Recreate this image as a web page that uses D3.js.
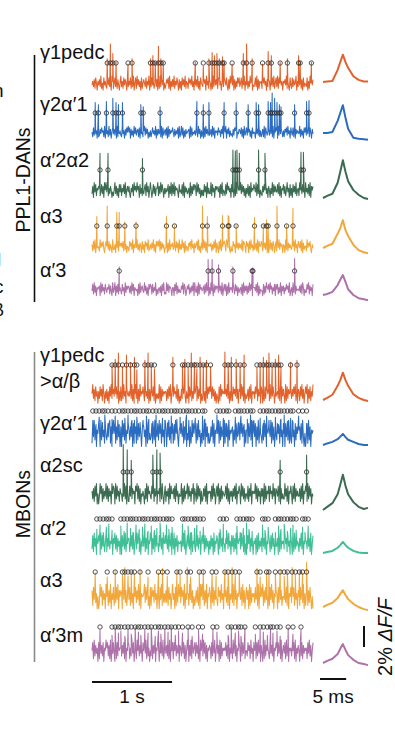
<!DOCTYPE html>
<html lang="en">
<head>
<meta charset="UTF-8">
<title>PPL1-DAN and MBON traces</title>
<script src="https://d3js.org/d3.v7.min.js"></script>
<style>
  body { margin:0; background:#fff; }
  svg { display:block; }
  text { font-family: "Liberation Sans", Arial, sans-serif; fill:#111; }
</style>
</head>
<body>
<script>
// ---------- data ----------
// trace length (s) and sample noise (digits 0-9, centred on 4.5)
const traceEnd = 2.76;

const danNames = [["γ1pedc"], ["γ2α′1"], ["α′2α2"], ["α3"], ["α′3"]];
const mbonNames = [["γ1pedc", ">α/β"], ["γ2α′1"], ["α2sc"], ["α′2"], ["α3"], ["α′3m"]];

// noise half-range, % dF/F
const danNoiseAmp = [0.75, 0.65, 0.8, 0.7, 0.7];
const mbonNoiseAmp = [1.0, 1.4, 1.1, 1.15, 1.3, 1.15];

const danNoise = [
  "4637285164 7392518463 2748351962 5836274159 3628475193 6482739158 2947361825 7538264917 3846259371 6293847152 4758291637 3926485172 6184739265 2857493618 4739261854" +
  "3857194627 5162938474 2794615838 6483172959 4917263858 3582749164 7263958143 4839172656 2958461737 6174839258 3928574616 5749263184 2837459163 6492718354 3816295747",
  "5283746192 3748562918 4629371584 7381925463 2946173859 5817362948 3672819452 6938471526 2584639173 7462918357 3819274658 5273648192 4938162745 6719283546 3852947162" +
  "6182947353 4729381656 3856274918 5917482634 2738691547 6482719358 3957261845 5184739262 4729185367 3846291758 6193847526 2758394618 5382917465 4927361858 3649285174",
  "3719482657 6248371959 4826375142 5937261848 2648391574 7316482957 4957183624 3682947159 5148372669 2739485163 6458173928 3927564184 5382917463 4619273858 7294836152" +
  "5284719363 3928461757 6471839254 2839574618 4716293855 5938472616 3827194658 6492837153 2748593617 5163928474 4839271658 3725946182 6184739256 2957384619 4638291757",
  "6283917454 2947583168 5738264193 3619482575 7482936154 2857391648 4936275183 6185739246 3749261858 5928374614 4817293657 3562847193 6394718254 2758394617 4683925174" +
  "3948271656 5726384917 4183926578 6297483152 2856194737 4639287518 5718394626 3472918558 6284739151 4937286158 2849375616 5193827464 3758294618 6482917355 2947583164",
  "4829371656 7193846285 3658274193 5917382464 2846193757 6372948165 4518293674 3947261858 7283649152 5637184923 2948376516 6184927353 3759286147 5826374919 4371928564" +
  "5728394616 2946183757 6384729158 4817293656 3952847163 5628193747 2739485166 6483917254 4182739658 3957264818 5826391747 2648573914 6193827455 4738296153 3859274618"
];
const mbonNoise = [
  "5937284616 3847295163 7261849357 4958371628 2739461854 6483927159 3817294658 5294638172 7648291535 3918274656 6273849158 4856392714 2739584163 5184726395 6928374152" +
  "4726193858 6938472615 3182947565 5749381626 2857493717 6394827153 4728391656 3859274618 6142839757 2937485164 5638291847 4192837566 3748592617 6284937158 5917382649",
  "2849371658 7193846284 3648927159 5827394617 1948372658 6374918257 2938475169 7461928353 4827391648 3958274619 6184937258 2739584167 5846273915 3917264858 7283946152" +
  "6391847252 3749281658 5928374619 2847193656 7163928458 3958471626 6284739159 4817392654 2739481657 6492837155 3857294618 5184739263 2946183758 6738294151 4829371656",
  "6372849151 4958273649 3827461958 7193846275 5264938172 2849375618 6938271546 4173928564 3859274616 5728394158 2647193855 7382946154 4917283659 3846275917 5293847162" +
  "3748291656 6283947158 4917283654 5839271646 2748391658 6194837255 3827491656 5938274617 4719283658 2856394717 6482917353 3947281658 5183927464 4728391658 6293847154",
  "3829471658 6193847259 2748365917 5938274618 1847392657 7264839158 3958271648 4827391659 6173928455 2849371658 5738264917 3917482655 6284937158 4739182654 2948375168" +
  "5928374616 3847192658 6193847255 2758394618 4827391657 6394728151 3859274616 5718293647 2947381658 6283947154 4718293656 3957284618 5182937465 2749381656 6384729158",
  "7284936151 3958274619 5827391648 2638491757 6194837259 4827361958 3749281655 6938472518 2857394617 5184927363 7392846159 4618273958 3857291646 6294837152 4738261959" +
  "4827391658 6193827454 2857394619 5738291646 3928471657 6482937158 4719283656 3846291758 5927384616 2849371657 6183947255 4738291658 3958274617 5284739162 6927384151",
  "5829374618 2947381659 6837291548 4192837566 3748291658 7263948157 2958374618 5849273615 3927481659 6184739257 4738291658 2859374617 6394827159 5173928468 3847261958" +
  "3948271657 6283749158 4719283656 5837291646 2948371658 6193847255 3857294618 5728394617 4182937564 2947381658 6384729157 4829371656 3758291647 5193827465 6284937158"
];

// detected events: times (s) and peak heights (% dF/F)
const danSpikeT = [
  [0.19,0.23,0.26,0.30,0.45,0.50,0.73,0.76,0.79,0.83,0.86,0.89,1.29,1.39,1.46,1.50,1.53,1.56,1.59,1.63,1.65,1.75,1.89,1.93,2.00,2.13,2.20,2.24,2.35,2.44,2.58,2.60,2.74],
  [0.04,0.08,0.18,0.26,0.30,0.33,0.38,0.61,0.64,0.85,1.31,1.39,1.46,1.65,1.80,1.95,2.05,2.08,2.20,2.23,2.25,2.28,2.31,2.34,2.36,2.53,2.68,2.71],
  [0.10,0.20,0.63,1.76,1.79,1.81,1.84,2.08,2.16,2.61,2.64],
  [0.06,0.19,0.31,0.34,0.41,0.55,0.93,1.03,1.38,1.44,1.63,1.70,1.71,1.80,2.03,2.14,2.18,2.20,2.31,2.43,2.51],
  [0.34,1.45,1.50,1.58,1.76,2.00,2.01,2.53]
];
const danSpikeH = [
  [2.4,3.8,2.9,2.1,1.9,2.4,2.4,2.7,2.1,3.6,2.4,2.1,2.1,1.7,2.4,3.0,2.7,2.9,2.4,2.6,2.1,1.9,2.9,3.8,2.4,1.9,3.1,2.7,2.1,2.4,2.7,2.1,2.1],
  [2.9,2.7,3.0,3.3,2.9,2.7,2.9,2.7,2.5,2.5,3.0,2.7,2.9,2.9,2.9,2.7,2.9,2.7,3.0,2.9,3.8,3.3,2.9,2.7,2.5,2.7,3.0,3.1],
  [3.6,3.6,3.1,3.9,3.8,3.9,3.6,3.9,3.6,3.7,3.7],
  [2.9,3.9,3.3,3.3,2.4,2.4,2.9,2.1,3.9,2.9,3.0,3.0,2.9,2.1,2.8,2.1,2.6,2.2,3.9,2.1,3.7],
  [2.2,2.9,2.9,2.4,2.2,2.1,2.1,3.0]
];
const mbonSpikeT = [
  [0.25,0.29,0.33,0.38,0.43,0.48,0.53,0.56,0.66,0.70,0.74,0.78,1.01,1.13,1.16,1.20,1.24,1.28,1.31,1.35,1.39,1.43,1.48,1.66,1.70,1.74,1.80,1.85,1.90,2.06,2.10,2.14,2.18,2.21,2.25,2.29,2.33,2.36,2.48,2.56],
  [0.01,0.05,0.09,0.13,0.16,0.20,0.25,0.29,0.34,0.38,0.41,0.45,0.49,0.53,0.56,0.60,0.64,0.68,0.71,0.76,0.80,0.84,0.88,0.91,0.95,0.99,1.03,1.06,1.10,1.14,1.18,1.21,1.25,1.29,1.33,1.38,1.41,1.56,1.60,1.64,1.68,1.71,1.79,1.83,1.86,1.90,1.94,1.98,2.01,2.10,2.14,2.18,2.21,2.25,2.29,2.33,2.36,2.40,2.44,2.48,2.51,2.58,2.63,2.68],
  [0.39,0.44,0.49,0.76,0.81,0.85,2.35,2.68],
  [0.06,0.10,0.14,0.18,0.21,0.25,0.36,0.40,0.44,0.48,0.51,0.55,0.59,0.63,0.66,0.70,0.74,0.78,0.81,0.85,0.89,0.93,0.96,1.00,1.13,1.16,1.20,1.24,1.28,1.31,1.35,1.39,1.60,1.64,1.68,1.81,1.85,1.89,1.93,1.96,2.00,2.13,2.16,2.20,2.29,2.33,2.36,2.40,2.44,2.48,2.51,2.55,2.63,2.66,2.70],
  [0.04,0.19,0.29,0.38,0.41,0.45,0.49,0.53,0.60,0.70,0.83,0.88,0.94,1.06,1.10,1.19,1.23,1.34,1.39,1.50,1.55,1.66,1.70,1.75,1.79,1.84,2.06,2.10,2.18,2.21,2.29,2.35,2.40,2.44,2.50,2.54,2.59,2.63,2.68],
  [0.10,0.25,0.29,0.33,0.36,0.41,0.45,0.49,0.54,0.58,0.61,0.66,0.70,0.74,0.79,0.83,0.86,0.91,0.95,0.99,1.04,1.08,1.13,1.20,1.25,1.33,1.38,1.51,1.56,1.70,1.74,1.79,1.83,1.86,1.91,2.04,2.10,2.14,2.19,2.23,2.26,2.31,2.35,2.45,2.51,2.61]
];
const mbonSpikeH = [
  [2.9,3.4,4.0,2.7,3.8,3.1,3.6,2.4,3.3,4.0,2.9,2.5,3.6,2.9,3.4,2.7,4.0,3.1,2.5,3.6,2.9,3.3,2.7,4.1,3.0,3.6,3.4,2.9,3.8,2.6,3.1,3.6,3.3,4.0,2.9,3.4,3.8,2.7,3.1,3.3],
  [1.4,1.0,1.7,1.2,1.9,1.1,1.5,1.8,1.0,1.3,1.6,1.9,1.1,1.4,1.7,1.2,1.0,1.8,1.5,1.3,1.9,1.1,1.6,1.4,1.2,1.8,1.0,1.5,1.7,1.3,1.9,1.1,1.4,1.6,1.2,1.8,1.5,1.9,1.3,1.6,1.1,1.4,1.7,1.2,1.8,1.0,1.5,1.9,1.3,1.6,1.1,1.8,1.4,1.2,1.7,1.0,1.5,1.9,1.3,1.6,1.2,1.8,1.4,1.1],
  [4.8,4.3,3.3,3.8,4.3,4.0,3.3,3.8],
  [1.5,1.9,1.2,1.7,2.0,1.4,1.8,1.3,2.1,1.6,1.2,1.9,1.5,1.7,2.0,1.3,1.8,1.4,1.6,2.1,1.2,1.9,1.5,1.7,2.0,1.4,1.8,1.2,1.6,1.9,1.3,1.7,1.5,2.0,1.4,1.8,1.2,1.6,2.1,1.5,1.3,1.9,1.4,1.7,1.2,1.8,1.5,2.0,1.3,1.6,1.9,1.4,1.7,1.2,1.8],
  [2.4,2.0,2.6,2.2,2.9,2.1,2.5,2.3,2.7,2.0,2.4,2.8,2.1,2.6,2.2,2.9,2.0,2.5,2.7,2.3,2.1,2.6,2.4,2.9,2.2,2.5,2.8,2.0,2.4,2.6,2.3,2.7,2.1,2.5,2.9,2.2,2.6,2.4,3.4],
  [2.1,1.6,2.3,1.8,2.0,1.5,2.2,1.7,2.4,1.9,1.6,2.1,1.8,2.3,1.5,2.0,1.7,2.2,1.9,2.4,1.6,2.0,1.8,2.3,1.5,2.1,1.7,2.2,1.9,1.6,2.4,1.8,2.0,1.5,2.3,1.7,2.1,1.9,1.6,2.2,1.8,2.0,1.5,2.3,1.7,2.1]
];

// event-triggered averages: time (ms) and % dF/F
const avgTime = [-3.8, -3, -2, -1, -0.5, 0, 0.5, 1, 2, 3, 4, 4.8];
const danAvg = [
  [0,0.05,0.1,1.15,1.9,2.6,1.9,1.35,0.55,0.2,0.05,0.05],
  [0,0,0.1,1.15,1.9,2.65,1.45,0.4,-0.45,-0.55,-0.6,-0.65],
  [0,0.2,0.4,1.45,2.5,3.6,2.5,1.6,0.75,0.3,0,-0.1],
  [0,0.2,0.4,1.35,1.9,2.65,1.7,1.15,0.3,-0.2,-0.4,-0.5],
  [0,0.1,0.3,0.95,1.45,1.9,1.25,0.55,0,-0.3,-0.4,-0.5]
];
const mbonAvg = [
  [0,0.2,0.5,1.35,1.9,2.6,1.9,1.35,0.55,0.2,0,-0.1],
  [0,0.15,0.3,0.55,0.8,1.05,0.75,0.5,0.3,0.1,0,0],
  [0,0.3,0.65,1.5,2.4,3.35,2.3,1.5,0.75,0.3,0.1,0.2],
  [0,0.1,0.2,0.5,0.75,1.05,0.75,0.5,0.2,0.05,0,0],
  [0,0.2,0.4,0.85,1.25,1.6,1.15,0.75,0.3,0,-0.2,-0.3],
  [0,0.2,0.4,0.85,1.35,1.8,1.25,0.75,0.3,0,-0.1,-0.2]
];

// ---------- layout / style ----------
const W = 395, H = 736;
const danColors = ["#e2622b", "#2b6cc0", "#3b6b50", "#f2a73b", "#ad72a9"];
const mbonColors = ["#e2622b", "#2b6cc0", "#3b6b50", "#3ebf95", "#f2a73b", "#ad72a9"];
const danRows = { center: [84,133,191,247,290], dots: [63,113,170,226,271], avg: [82,133,198,248,295], label: [59,111,167,223,277] };
const mbonRows = { center: [395,435,495,545,598,652], dots: [365,411,472,519,572,627], avg: [400,445,510,553,607,663], label: [362,430,472,535,587,642] };

const x = d3.scaleLinear().domain([0, traceEnd]).range([92, 313]);
const dff = d3.scaleLinear().domain([0, 1]).range([0, -10.5]); // % dF/F -> px
const xa = d3.scaleLinear().domain([avgTime[0], avgTime[avgTime.length - 1]]).range([323, 368]);

const svg = d3.select("body").append("svg").attr("width", W).attr("height", H);

function series(str, amp, ts, hs) {
  const d = str.replace(/\s/g, "").split("").map(Number);
  const pts = d.map((v, i) => ({ t: i / (d.length - 1) * traceEnd, v: (v - 4.5) / 4.5 * amp }));
  ts.forEach((t, i) => pts.push({ t, v: hs[i] }));
  return pts.sort((a, b) => a.t - b.t);
}

const traceLine = d3.line().x(d => x(d.t)).y(d => dff(d.v));
const avgLine = d3.line().x((d, i) => xa(avgTime[i])).y(d => dff(d));

function drawGroup(names, colors, rows, noise, amps, spT, spH, avgs) {
  names.forEach((lines, i) => {
    // label
    const lab = svg.append("text").attr("x", 40).attr("y", rows.label[i]).style("font-size", "20px");
    lines.forEach((s, j) => lab.append("tspan").attr("x", 40).attr("dy", j ? 26 : 0).text(s));

    const g = svg.append("g").attr("transform", `translate(0,${rows.center[i]})`);
    g.append("path")
      .datum(series(noise[i], amps[i], spT[i], spH[i]))
      .attr("d", traceLine)
      .attr("fill", "none").attr("stroke", colors[i]).attr("stroke-width", 1.05)
      .attr("stroke-linejoin", "round");

    svg.append("g").selectAll("circle").data(spT[i]).join("circle")
      .attr("cx", d => x(d)).attr("cy", rows.dots[i]).attr("r", 2.2)
      .attr("fill", "none").attr("stroke", "#2a2a2a").attr("stroke-width", 0.8);

    svg.append("path")
      .datum(avgs[i])
      .attr("transform", `translate(0,${rows.avg[i]})`)
      .attr("d", avgLine)
      .attr("fill", "none").attr("stroke", colors[i]).attr("stroke-width", 2)
      .attr("stroke-linejoin", "round");
  });
}

drawGroup(danNames, danColors, danRows, danNoise, danNoiseAmp, danSpikeT, danSpikeH, danAvg);
drawGroup(mbonNames, mbonColors, mbonRows, mbonNoise, mbonNoiseAmp, mbonSpikeT, mbonSpikeH, mbonAvg);

// group brackets
svg.append("line").attr("x1", 34.5).attr("x2", 34.5).attr("y1", 55).attr("y2", 302)
  .attr("stroke", "#111").attr("stroke-width", 1.6);
svg.append("line").attr("x1", 34.5).attr("x2", 34.5).attr("y1", 352).attr("y2", 662)
  .attr("stroke", "#8a8a8a").attr("stroke-width", 1.6);
svg.append("text").attr("transform", "translate(30,180) rotate(-90)")
  .attr("text-anchor", "middle").style("font-size", "19.5px").text("PPL1-DANs");
svg.append("text").attr("transform", "translate(30,504) rotate(-90)")
  .attr("text-anchor", "middle").style("font-size", "19.5px").text("MBONs");

// clipped letters from the neighbouring panel
[["n", -7, 97], ["l", -3, 266], ["c", -6, 293], ["β", -7, 316]].forEach(([s, px, py]) =>
  svg.append("text").attr("x", px).attr("y", py).style("font-size", "19px").text(s));

// scale bars
svg.append("line").attr("x1", x(0)).attr("x2", x(1)).attr("y1", 682).attr("y2", 682)
  .attr("stroke", "#111").attr("stroke-width", 2);
svg.append("text").attr("x", (x(0) + x(1)) / 2).attr("y", 703).attr("text-anchor", "middle")
  .style("font-size", "19px").text("1 s");

const msStart = 320, msLen = xa(5) - xa(0);
svg.append("line").attr("x1", msStart).attr("x2", msStart + msLen).attr("y1", 679).attr("y2", 679)
  .attr("stroke", "#111").attr("stroke-width", 2);
svg.append("text").attr("x", msStart + msLen / 2).attr("y", 703).attr("text-anchor", "middle")
  .style("font-size", "19px").text("5 ms");

svg.append("line").attr("x1", 364).attr("x2", 364).attr("y1", 647).attr("y2", 647 + dff(2))
  .attr("stroke", "#111").attr("stroke-width", 2);
const lbl = svg.append("text").attr("transform", "translate(392,637) rotate(-90)")
  .attr("text-anchor", "middle").style("font-size", "20px");
lbl.append("tspan").text("2% ");
lbl.append("tspan").style("font-style", "italic").text("ΔF/F");
</script>
</body>
</html>
